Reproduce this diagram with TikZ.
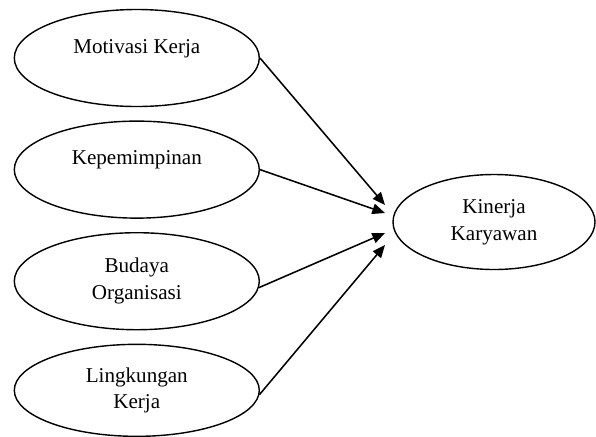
\documentclass[tikz,border=0pt]{standalone}
\usepackage{fontspec}
\setmainfont{Liberation Serif}
\usepackage{tikz}
\usetikzlibrary{positioning,arrows.meta,shapes.geometric}

\begin{document}
\begin{tikzpicture}[node distance=3.3mm and 7mm,
  var/.style={draw,ellipse,line width=1pt,minimum width=6.125cm,minimum height=2.425cm,
    inner sep=0pt,align=center,font=\fontsize{15}{19}\selectfont},
  oneline/.style={text depth=17pt},
  arr/.style={-{Triangle[length=9pt,width=7.5pt]},line width=1.1pt}]
\useasboundingbox (0,0) rectangle (14.9,-10.9);
\node[var,oneline] (mk) at (3.42,-1.45) {Motivasi Kerja};
\node[var,oneline] (kp) [below=of mk] {Kepemimpinan};
\node[var] (bo) [below=of kp] {Budaya\\Organisasi};
\node[var,minimum height=2.3cm] (lk) [below=of bo] {Lingkungan\\Kerja};
\node[var,minimum width=5.05cm,minimum height=2.375cm] (kk) at (12.35,-5.55) {Kinerja\\Karyawan};
\coordinate (t1) at (9.625,-5.125);
\coordinate (t2) at (9.625,-5.325);
\coordinate (t3) at (9.625,-5.825);
\coordinate (t4) at (9.625,-6.125);
\draw[arr] (mk.east) -- (t1);
\draw[arr] (kp.east) -- (t2);
\draw[arr] (bo.-3) -- (t3);
\draw[arr] (lk.-2) -- (t4);
\end{tikzpicture}
\end{document}
